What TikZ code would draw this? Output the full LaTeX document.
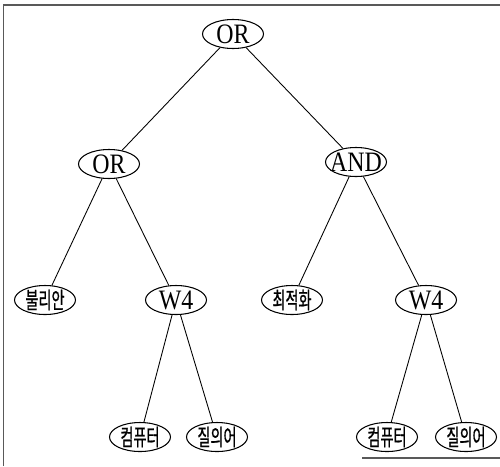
\documentclass[tikz,border=0pt]{standalone}
\usepackage{fontspec}
\setmainfont{Liberation Serif}
\newfontfamily\opfont[FakeStretch=0.85]{Liberation Serif}
\newfontfamily\krfont[FakeStretch=0.62, FakeBold=0.8]{Noto Sans CJK KR}
\usepackage{tikz}
\usetikzlibrary{shapes.geometric, positioning}
\tikzstyle{term} = [ellipse, draw=black, line width=0.6pt, minimum width=1.22cm, minimum height=0.58cm, inner xsep=-0.2cm, inner ysep=-2pt, font=\opfont\fontsize{16}{18}\selectfont]
\tikzstyle{word} = [term, font=\krfont\fontsize{13}{15}\selectfont]
\tikzstyle{edge} = [line width=0.5pt]
\tikzstyle{frame} = [draw=black!65, line width=1.1pt]

\begin{document}
\begin{tikzpicture}
				\useasboundingbox (0,0) rectangle (10,-9.32);
				
				% Frame of the scan
				\draw [frame] (0.07,-9.32) -- (0.07,-0.1) -- (10,-0.1);
				\draw [frame] (7.24,-9.16) -- (10,-9.16);
				
				% Operator nodes
				\node (root) [term] at (4.66,-0.68) {OR};
				\node (orL) [term] at (2.18,-3.28) {OR};
				\node (andR) [term] at (7.12,-3.24) {AND};
				\node (w4L) [term] at (3.52,-6.00) {W4};
				\node (w4R) [term] at (8.52,-6.00) {W4};
				
				% Term nodes
				\node (bool) [word] at (0.90,-6.00) {불리안};
				\node (opt) [word] at (5.84,-6.00) {최적화};
				\node (comL) [word] at (2.80,-8.74) {컴퓨터};
				\node (qryL) [word] at (4.34,-8.74) {질의어};
				\node (comR) [word] at (7.74,-8.74) {컴퓨터};
				\node (qryR) [word] at (9.32,-8.74) {질의어};
				
				% Edges
				\draw [edge] (root) -- (orL);
				\draw [edge] (root) -- (andR);
				\draw [edge] (orL) -- (bool);
				\draw [edge] (orL) -- (w4L);
				\draw [edge] (andR) -- (opt);
				\draw [edge] (andR) -- (w4R);
				\draw [edge] (w4L) -- (comL);
				\draw [edge] (w4L) -- (qryL);
				\draw [edge] (w4R) -- (comR);
				\draw [edge] (w4R) -- (qryR);
				
\end{tikzpicture}
\end{document}
